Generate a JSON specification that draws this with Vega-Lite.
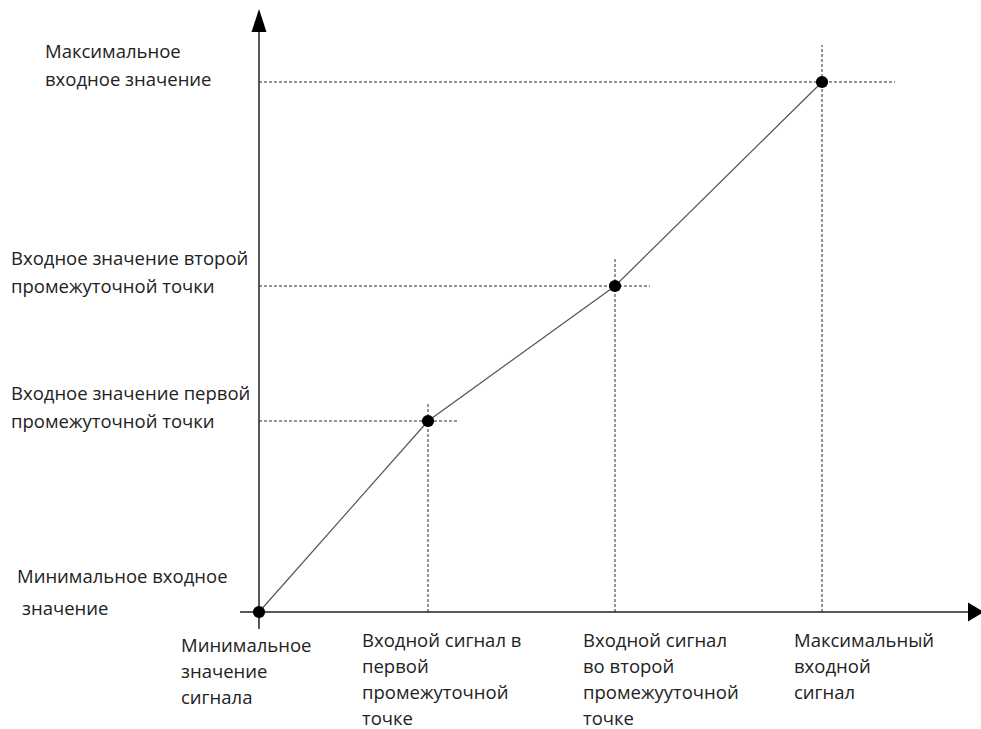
{
  "$schema": "https://vega.github.io/schema/vega-lite/v6.json",
  "width": 981,
  "height": 729,
  "autosize": "none",
  "padding": 0,
  "background": "white",
  "config": {"view": {"stroke": null}},
  "datasets": {
    "pts": [
      {"x": 0, "y": 0},
      {"x": 16.9, "y": 19.1},
      {"x": 35.6, "y": 32.6},
      {"x": 56.3, "y": 53.0}
    ],
    "guides": [
      {"x": 0, "y": 19.1, "x2": 19.9, "y2": 19.1},
      {"x": 0, "y": 32.6, "x2": 39.1, "y2": 32.6},
      {"x": 0, "y": 53.0, "x2": 63.6, "y2": 53.0},
      {"x": 16.9, "y": 0, "x2": 16.9, "y2": 20.9},
      {"x": 35.6, "y": 0, "x2": 35.6, "y2": 35.4},
      {"x": 56.3, "y": 0, "x2": 56.3, "y2": 56.7}
    ],
    "axes": [
      {"x": 0, "y": -1.7, "x2": 0, "y2": 58.5},
      {"x": -1.9, "y": 0, "x2": 71, "y2": 0}
    ],
    "arrowUp": [{"x": 0, "y": 59.15}],
    "arrowRight": [{"x": 71.7, "y": 0}],
    "ylabels": [
      {"x": -21.4, "y": 55.4, "t": ["Максимальное", "входное значение"]},
      {"x": -24.8, "y": 34.7, "t": ["Входное значение второй", "промежуточной точки"]},
      {"x": -24.8, "y": 21.2, "t": ["Входное значение первой", "промежуточной точки"]},
      {"x": -24.2, "y": 2.9, "t": ["Минимальное входное"]},
      {"x": -23.7, "y": -0.3, "t": ["значение"]}
    ],
    "xlabels": [
      {"x": -7.8, "y": -4.0, "t": ["Минимальное", "значение", "сигнала"]},
      {"x": 10.3, "y": -3.5, "t": ["Входной сигнал в", "первой", "промежуточной", "точке"]},
      {"x": 32.4, "y": -3.5, "t": ["Входной сигнал", "во второй", "промежууточной", "точке"]},
      {"x": 53.5, "y": -3.5, "t": ["Максимальный", "входной", "сигнал"]}
    ]
  },
  "resolve": {"scale": {"x": "shared", "y": "shared"}},
  "encoding": {
    "x": {"field": "x", "type": "quantitative", "scale": {"domain": [-25.9, 72.2], "nice": false, "zero": false}, "axis": null},
    "y": {"field": "y", "type": "quantitative", "scale": {"domain": [-11.7, 61.2], "nice": false, "zero": false}, "axis": null}
  },
  "layer": [
    {
      "data": {"name": "guides"},
      "mark": {"type": "rule", "stroke": "#2a2a2a", "strokeWidth": 1, "strokeDash": [3, 2]},
      "encoding": {"x2": {"field": "x2"}, "y2": {"field": "y2"}}
    },
    {
      "data": {"name": "axes"},
      "mark": {"type": "rule", "stroke": "#222222", "strokeWidth": 1.5},
      "encoding": {"x2": {"field": "x2"}, "y2": {"field": "y2"}}
    },
    {
      "data": {"name": "arrowUp"},
      "mark": {"type": "point", "shape": "M0,-1L0.65,1L-0.65,1Z", "size": 529, "filled": true, "color": "#000000", "opacity": 1}
    },
    {
      "data": {"name": "arrowRight"},
      "mark": {"type": "point", "shape": "M1,0L-1,1.2L-1,-1.2Z", "size": 256, "filled": true, "color": "#000000", "opacity": 1}
    },
    {
      "data": {"name": "pts"},
      "mark": {"type": "line", "stroke": "#555555", "strokeWidth": 1.2}
    },
    {
      "data": {"name": "pts"},
      "mark": {"type": "point", "shape": "circle", "size": 150, "filled": true, "color": "#000000", "opacity": 1}
    },
    {
      "data": {"name": "ylabels"},
      "mark": {"type": "text", "align": "left", "baseline": "alphabetic", "font": "Open Sans", "fontSize": 18.5, "lineHeight": 28, "color": "#222222"},
      "encoding": {"text": {"field": "t"}}
    },
    {
      "data": {"name": "xlabels"},
      "mark": {"type": "text", "align": "left", "baseline": "alphabetic", "font": "Open Sans", "fontSize": 18.5, "lineHeight": 26, "color": "#222222"},
      "encoding": {"text": {"field": "t"}}
    }
  ]
}
